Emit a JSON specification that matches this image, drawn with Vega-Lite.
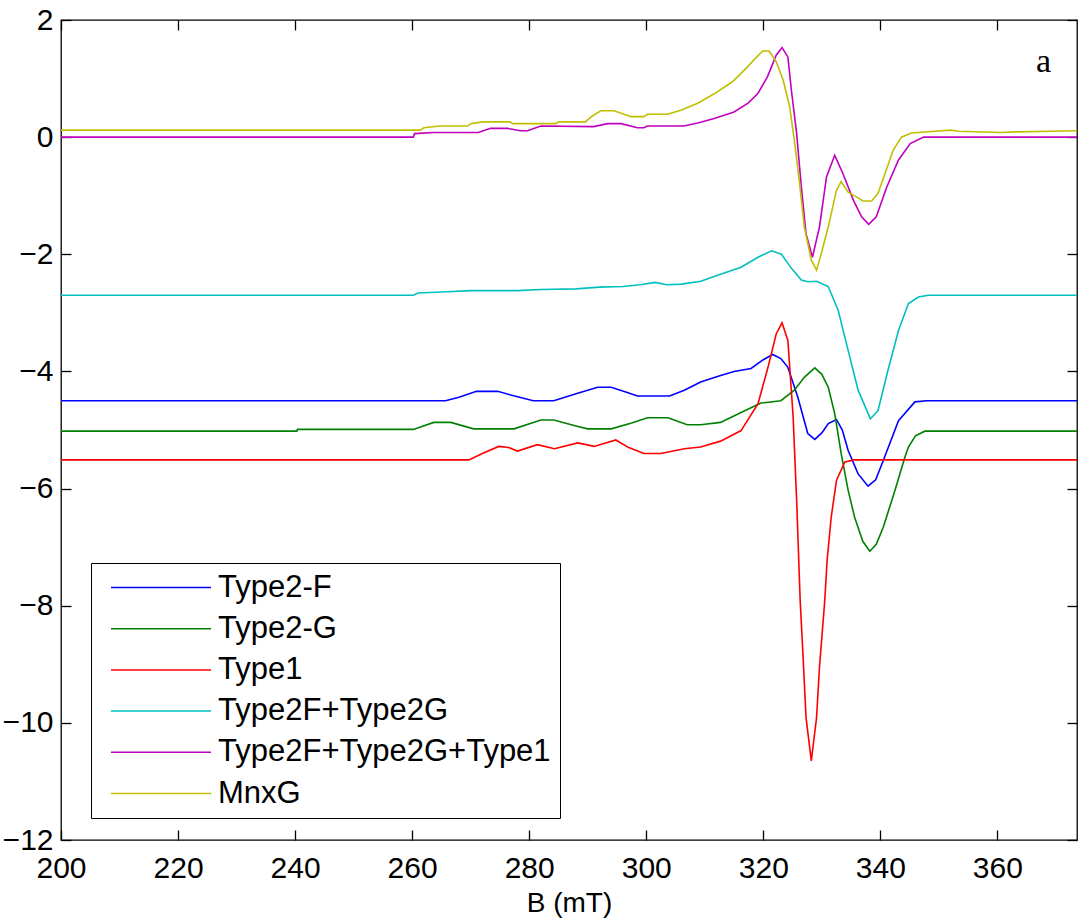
{
"$schema": "https://vega.github.io/schema/vega-lite/v6.json",
"width": 1016, "height": 820,
"autosize": {"type": "none"},
"padding": {"left": 61, "top": 20, "right": 2, "bottom": 80},
"background": "white",
"config": {"view": {"stroke": "black", "strokeWidth": 1.3}, "font": "Liberation Sans"},
"datasets": {
"curves": [
{"s":"Type2-F","B":200,"v":-4.5},{"s":"Type2-F","B":265.7,"v":-4.5},{"s":"Type2-F","B":268,"v":-4.44},{"s":"Type2-F","B":271,"v":-4.34},{"s":"Type2-F","B":274.6,"v":-4.34},{"s":"Type2-F","B":277.5,"v":-4.42},{"s":"Type2-F","B":280.7,"v":-4.5},{"s":"Type2-F","B":284.2,"v":-4.5},{"s":"Type2-F","B":288,"v":-4.38},{"s":"Type2-F","B":291.7,"v":-4.27},{"s":"Type2-F","B":294,"v":-4.27},{"s":"Type2-F","B":296.5,"v":-4.35},{"s":"Type2-F","B":298.5,"v":-4.42},{"s":"Type2-F","B":304,"v":-4.42},{"s":"Type2-F","B":306.5,"v":-4.32},{"s":"Type2-F","B":309.3,"v":-4.18},{"s":"Type2-F","B":312.7,"v":-4.07},{"s":"Type2-F","B":315,"v":-4.0},{"s":"Type2-F","B":317.9,"v":-3.95},{"s":"Type2-F","B":320,"v":-3.8},{"s":"Type2-F","B":321.6,"v":-3.71},{"s":"Type2-F","B":323,"v":-3.78},{"s":"Type2-F","B":324.2,"v":-3.93},{"s":"Type2-F","B":325.9,"v":-4.44},{"s":"Type2-F","B":327.6,"v":-5.06},{"s":"Type2-F","B":328.8,"v":-5.16},{"s":"Type2-F","B":330,"v":-5.05},{"s":"Type2-F","B":331.1,"v":-4.89},{"s":"Type2-F","B":332.5,"v":-4.82},{"s":"Type2-F","B":333.5,"v":-5.0},{"s":"Type2-F","B":334.5,"v":-5.35},{"s":"Type2-F","B":336.2,"v":-5.75},{"s":"Type2-F","B":337.9,"v":-5.96},{"s":"Type2-F","B":339.2,"v":-5.85},{"s":"Type2-F","B":340.5,"v":-5.52},{"s":"Type2-F","B":343.1,"v":-4.84},{"s":"Type2-F","B":345.9,"v":-4.52},{"s":"Type2-F","B":347.9,"v":-4.5},{"s":"Type2-F","B":373.6,"v":-4.5},
{"s":"Type2-G","B":200,"v":-5.02},{"s":"Type2-G","B":240.3,"v":-5.02},{"s":"Type2-G","B":240.4,"v":-4.99},{"s":"Type2-G","B":260.2,"v":-4.99},{"s":"Type2-G","B":263.7,"v":-4.87},{"s":"Type2-G","B":266.6,"v":-4.87},{"s":"Type2-G","B":270.5,"v":-4.98},{"s":"Type2-G","B":277.4,"v":-4.98},{"s":"Type2-G","B":282,"v":-4.83},{"s":"Type2-G","B":284.2,"v":-4.83},{"s":"Type2-G","B":288,"v":-4.93},{"s":"Type2-G","B":290,"v":-4.98},{"s":"Type2-G","B":294,"v":-4.98},{"s":"Type2-G","B":297.5,"v":-4.88},{"s":"Type2-G","B":300.2,"v":-4.79},{"s":"Type2-G","B":303.7,"v":-4.79},{"s":"Type2-G","B":307,"v":-4.91},{"s":"Type2-G","B":309.3,"v":-4.91},{"s":"Type2-G","B":312.7,"v":-4.87},{"s":"Type2-G","B":316.2,"v":-4.7},{"s":"Type2-G","B":319.6,"v":-4.54},{"s":"Type2-G","B":323,"v":-4.5},{"s":"Type2-G","B":325.3,"v":-4.32},{"s":"Type2-G","B":327,"v":-4.1},{"s":"Type2-G","B":328.8,"v":-3.94},{"s":"Type2-G","B":330,"v":-4.05},{"s":"Type2-G","B":331.1,"v":-4.27},{"s":"Type2-G","B":332.2,"v":-4.72},{"s":"Type2-G","B":333.3,"v":-5.4},{"s":"Type2-G","B":334.5,"v":-6.03},{"s":"Type2-G","B":335.6,"v":-6.49},{"s":"Type2-G","B":337,"v":-6.9},{"s":"Type2-G","B":338.2,"v":-7.07},{"s":"Type2-G","B":339.3,"v":-6.95},{"s":"Type2-G","B":340.5,"v":-6.66},{"s":"Type2-G","B":342.5,"v":-6.03},{"s":"Type2-G","B":344.2,"v":-5.46},{"s":"Type2-G","B":344.8,"v":-5.29},{"s":"Type2-G","B":346,"v":-5.1},{"s":"Type2-G","B":347.6,"v":-5.02},{"s":"Type2-G","B":373.6,"v":-5.02},
{"s":"Type1","B":200,"v":-5.51},{"s":"Type1","B":269.7,"v":-5.51},{"s":"Type1","B":272,"v":-5.4},{"s":"Type1","B":274.8,"v":-5.28},{"s":"Type1","B":276.5,"v":-5.3},{"s":"Type1","B":278,"v":-5.36},{"s":"Type1","B":281.4,"v":-5.25},{"s":"Type1","B":284.3,"v":-5.32},{"s":"Type1","B":288.3,"v":-5.22},{"s":"Type1","B":291.1,"v":-5.28},{"s":"Type1","B":294.8,"v":-5.17},{"s":"Type1","B":297,"v":-5.3},{"s":"Type1","B":299.6,"v":-5.4},{"s":"Type1","B":302.5,"v":-5.4},{"s":"Type1","B":306.5,"v":-5.32},{"s":"Type1","B":309.3,"v":-5.29},{"s":"Type1","B":312.7,"v":-5.19},{"s":"Type1","B":316.2,"v":-5.01},{"s":"Type1","B":319.1,"v":-4.55},{"s":"Type1","B":320.8,"v":-3.93},{"s":"Type1","B":322.2,"v":-3.36},{"s":"Type1","B":323.2,"v":-3.17},{"s":"Type1","B":324.2,"v":-3.47},{"s":"Type1","B":325.1,"v":-4.78},{"s":"Type1","B":325.7,"v":-6.21},{"s":"Type1","B":326.3,"v":-7.91},{"s":"Type1","B":326.8,"v":-8.88},{"s":"Type1","B":327.3,"v":-9.91},{"s":"Type1","B":328.2,"v":-10.65},{"s":"Type1","B":329.1,"v":-9.91},{"s":"Type1","B":329.6,"v":-9.05},{"s":"Type1","B":330.5,"v":-7.91},{"s":"Type1","B":330.9,"v":-7.23},{"s":"Type1","B":331.6,"v":-6.49},{"s":"Type1","B":332.5,"v":-5.86},{"s":"Type1","B":333.9,"v":-5.55},{"s":"Type1","B":335.4,"v":-5.51},{"s":"Type1","B":373.6,"v":-5.51},
{"s":"Type2F+Type2G","B":200,"v":-2.7},{"s":"Type2F+Type2G","B":260.2,"v":-2.7},{"s":"Type2F+Type2G","B":261,"v":-2.66},{"s":"Type2F+Type2G","B":266,"v":-2.64},{"s":"Type2F+Type2G","B":270,"v":-2.62},{"s":"Type2F+Type2G","B":278,"v":-2.62},{"s":"Type2F+Type2G","B":282,"v":-2.6},{"s":"Type2F+Type2G","B":288,"v":-2.59},{"s":"Type2F+Type2G","B":292,"v":-2.56},{"s":"Type2F+Type2G","B":296,"v":-2.55},{"s":"Type2F+Type2G","B":299,"v":-2.52},{"s":"Type2F+Type2G","B":301.5,"v":-2.48},{"s":"Type2F+Type2G","B":303.5,"v":-2.52},{"s":"Type2F+Type2G","B":306,"v":-2.51},{"s":"Type2F+Type2G","B":309.3,"v":-2.46},{"s":"Type2F+Type2G","B":312.7,"v":-2.34},{"s":"Type2F+Type2G","B":316.2,"v":-2.22},{"s":"Type2F+Type2G","B":319.1,"v":-2.05},{"s":"Type2F+Type2G","B":321.4,"v":-1.94},{"s":"Type2F+Type2G","B":323.1,"v":-2.0},{"s":"Type2F+Type2G","B":324.8,"v":-2.24},{"s":"Type2F+Type2G","B":326.5,"v":-2.44},{"s":"Type2F+Type2G","B":327.6,"v":-2.47},{"s":"Type2F+Type2G","B":329.1,"v":-2.46},{"s":"Type2F+Type2G","B":331.1,"v":-2.55},{"s":"Type2F+Type2G","B":332.8,"v":-2.96},{"s":"Type2F+Type2G","B":334.5,"v":-3.64},{"s":"Type2F+Type2G","B":336.2,"v":-4.32},{"s":"Type2F+Type2G","B":338.3,"v":-4.81},{"s":"Type2F+Type2G","B":339.6,"v":-4.67},{"s":"Type2F+Type2G","B":341.3,"v":-3.98},{"s":"Type2F+Type2G","B":343.1,"v":-3.3},{"s":"Type2F+Type2G","B":344.8,"v":-2.84},{"s":"Type2F+Type2G","B":346.5,"v":-2.73},{"s":"Type2F+Type2G","B":348.2,"v":-2.7},{"s":"Type2F+Type2G","B":373.6,"v":-2.7},
{"s":"Type2F+Type2G+Type1","B":200,"v":0},{"s":"Type2F+Type2G+Type1","B":260.2,"v":0},{"s":"Type2F+Type2G+Type1","B":260.4,"v":0.06},{"s":"Type2F+Type2G+Type1","B":263.7,"v":0.08},{"s":"Type2F+Type2G+Type1","B":271.3,"v":0.08},{"s":"Type2F+Type2G+Type1","B":273.4,"v":0.15},{"s":"Type2F+Type2G+Type1","B":276.3,"v":0.15},{"s":"Type2F+Type2G+Type1","B":278.5,"v":0.11},{"s":"Type2F+Type2G+Type1","B":279.7,"v":0.11},{"s":"Type2F+Type2G+Type1","B":282,"v":0.19},{"s":"Type2F+Type2G+Type1","B":291,"v":0.18},{"s":"Type2F+Type2G+Type1","B":293.4,"v":0.23},{"s":"Type2F+Type2G+Type1","B":295.7,"v":0.23},{"s":"Type2F+Type2G+Type1","B":298.5,"v":0.16},{"s":"Type2F+Type2G+Type1","B":299.6,"v":0.16},{"s":"Type2F+Type2G+Type1","B":300.2,"v":0.19},{"s":"Type2F+Type2G+Type1","B":306.4,"v":0.19},{"s":"Type2F+Type2G+Type1","B":308.8,"v":0.24},{"s":"Type2F+Type2G+Type1","B":311.6,"v":0.32},{"s":"Type2F+Type2G+Type1","B":315,"v":0.43},{"s":"Type2F+Type2G+Type1","B":317.4,"v":0.58},{"s":"Type2F+Type2G+Type1","B":319.1,"v":0.75},{"s":"Type2F+Type2G+Type1","B":320.7,"v":1.03},{"s":"Type2F+Type2G+Type1","B":322.2,"v":1.4},{"s":"Type2F+Type2G+Type1","B":323.2,"v":1.53},{"s":"Type2F+Type2G+Type1","B":324.2,"v":1.37},{"s":"Type2F+Type2G+Type1","B":324.8,"v":0.8},{"s":"Type2F+Type2G+Type1","B":325.7,"v":0.06},{"s":"Type2F+Type2G+Type1","B":326.5,"v":-0.85},{"s":"Type2F+Type2G+Type1","B":327.3,"v":-1.65},{"s":"Type2F+Type2G+Type1","B":328.4,"v":-2.05},{"s":"Type2F+Type2G+Type1","B":329.6,"v":-1.53},{"s":"Type2F+Type2G+Type1","B":330.8,"v":-0.68},{"s":"Type2F+Type2G+Type1","B":332.2,"v":-0.31},{"s":"Type2F+Type2G+Type1","B":333.6,"v":-0.62},{"s":"Type2F+Type2G+Type1","B":335.4,"v":-1.08},{"s":"Type2F+Type2G+Type1","B":336.8,"v":-1.36},{"s":"Type2F+Type2G+Type1","B":338,"v":-1.49},{"s":"Type2F+Type2G+Type1","B":339.3,"v":-1.36},{"s":"Type2F+Type2G+Type1","B":341.1,"v":-0.85},{"s":"Type2F+Type2G+Type1","B":343.1,"v":-0.39},{"s":"Type2F+Type2G+Type1","B":345.1,"v":-0.11},{"s":"Type2F+Type2G+Type1","B":347.4,"v":0},{"s":"Type2F+Type2G+Type1","B":373.6,"v":0},
{"s":"MnxG","B":200,"v":0.12},{"s":"MnxG","B":261.4,"v":0.12},{"s":"MnxG","B":262,"v":0.16},{"s":"MnxG","B":264.7,"v":0.19},{"s":"MnxG","B":269.5,"v":0.19},{"s":"MnxG","B":270,"v":0.23},{"s":"MnxG","B":272,"v":0.26},{"s":"MnxG","B":276.7,"v":0.26},{"s":"MnxG","B":277.2,"v":0.23},{"s":"MnxG","B":284.6,"v":0.23},{"s":"MnxG","B":285,"v":0.26},{"s":"MnxG","B":289.6,"v":0.26},{"s":"MnxG","B":290.5,"v":0.34},{"s":"MnxG","B":292.2,"v":0.45},{"s":"MnxG","B":294.5,"v":0.45},{"s":"MnxG","B":297.4,"v":0.35},{"s":"MnxG","B":299.6,"v":0.35},{"s":"MnxG","B":300.2,"v":0.39},{"s":"MnxG","B":303.6,"v":0.39},{"s":"MnxG","B":305.9,"v":0.46},{"s":"MnxG","B":308.8,"v":0.58},{"s":"MnxG","B":311.6,"v":0.74},{"s":"MnxG","B":313.9,"v":0.89},{"s":"MnxG","B":315,"v":0.97},{"s":"MnxG","B":317.3,"v":1.2},{"s":"MnxG","B":318.7,"v":1.35},{"s":"MnxG","B":319.9,"v":1.47},{"s":"MnxG","B":321,"v":1.47},{"s":"MnxG","B":322.2,"v":1.29},{"s":"MnxG","B":323.4,"v":0.97},{"s":"MnxG","B":324.5,"v":0.52},{"s":"MnxG","B":325.3,"v":-0.05},{"s":"MnxG","B":326.2,"v":-0.79},{"s":"MnxG","B":327,"v":-1.53},{"s":"MnxG","B":328.2,"v":-2.1},{"s":"MnxG","B":329.1,"v":-2.27},{"s":"MnxG","B":329.9,"v":-1.99},{"s":"MnxG","B":331.1,"v":-1.53},{"s":"MnxG","B":332.5,"v":-0.91},{"s":"MnxG","B":333.3,"v":-0.76},{"s":"MnxG","B":334.5,"v":-0.94},{"s":"MnxG","B":335.9,"v":-1.02},{"s":"MnxG","B":337,"v":-1.09},{"s":"MnxG","B":338.5,"v":-1.09},{"s":"MnxG","B":339.6,"v":-0.96},{"s":"MnxG","B":340.8,"v":-0.62},{"s":"MnxG","B":342.2,"v":-0.22},{"s":"MnxG","B":343.6,"v":0.0},{"s":"MnxG","B":345.3,"v":0.07},{"s":"MnxG","B":349.3,"v":0.1},{"s":"MnxG","B":352,"v":0.12},{"s":"MnxG","B":353.3,"v":0.1},{"s":"MnxG","B":360.7,"v":0.08},{"s":"MnxG","B":363,"v":0.09},{"s":"MnxG","B":373.6,"v":0.11}
],
"frame": [{"B":200,"v":-12},{"B":373.6,"v":2}],
"note": [{"t":"a","B":367.9,"v":1.28}]
},
"layer": [
{
"data": {"name": "curves"},
"mark": {"type": "line", "strokeWidth": 1.6},
"encoding": {
"x": {"field": "B", "type": "quantitative", "scale": {"domain": [200, 373.6], "nice": false, "zero": false},
"axis": {"orient": "bottom", "values": [200,220,240,260,280,300,320,340,360], "ticks": false, "domain": false, "grid": false, "labelFlush": false, "labelFontSize": 30, "labelPadding": 13, "labelColor": "black", "labelFont": "Liberation Sans", "title": "B (mT)", "titleFontSize": 28, "titleFontWeight": "normal", "titleFont": "Liberation Sans", "titleColor": "black", "titlePadding": 6}},
"y": {"field": "v", "type": "quantitative", "scale": {"domain": [-12, 2], "nice": false, "zero": false},
"axis": {"orient": "left", "values": [-12,-10,-8,-6,-4,-2,0,2], "ticks": false, "domain": false, "grid": false, "labelFlush": false, "labelFontSize": 30, "labelPadding": 8, "labelColor": "black", "labelFont": "Liberation Sans", "title": null}},
"color": {"field": "s", "type": "nominal",
"scale": {"domain": ["Type2-F","Type2-G","Type1","Type2F+Type2G","Type2F+Type2G+Type1","MnxG"], "range": ["#0000ff","#008000","#ff0000","#00bfbf","#bf00bf","#bfbf00"]},
"legend": {"orient": "none", "legendX": 30, "legendY": 543, "title": null, "symbolType": "stroke", "symbolSize": 10000, "symbolStrokeWidth": 1.5, "clipHeight": 31, "labelFontSize": 31, "labelFont": "Liberation Sans", "labelColor": "black", "labelOffset": 6, "labelLimit": 500, "rowPadding": 9.2, "padding": 9, "symbolOffset": 10, "strokeColor": "black", "fillColor": "white"}}
}
},
{
"data": {"name": "frame"},
"mark": {"type": "line", "opacity": 0},
"encoding": {
"x": {"field": "B", "type": "quantitative", "scale": {"domain": [200, 373.6], "nice": false, "zero": false},
"axis": {"orient": "bottom", "values": [200,220,240,260,280,300,320,340,360], "labels": false, "domain": false, "grid": false, "offset": -10, "tickSize": 10, "tickColor": "black", "tickWidth": 1.3, "title": null}},
"y": {"field": "v", "type": "quantitative", "scale": {"domain": [-12, 2], "nice": false, "zero": false},
"axis": {"orient": "left", "values": [-12,-10,-8,-6,-4,-2,0,2], "labels": false, "domain": false, "grid": false, "offset": -10, "tickSize": 10, "tickColor": "black", "tickWidth": 1.3, "title": null}}
}
},
{
"data": {"name": "frame"},
"mark": {"type": "line", "opacity": 0},
"encoding": {
"x": {"field": "B", "type": "quantitative", "scale": {"domain": [200, 373.6], "nice": false, "zero": false},
"axis": {"orient": "top", "values": [200,220,240,260,280,300,320,340,360], "labels": false, "domain": false, "grid": false, "offset": -10, "tickSize": 10, "tickColor": "black", "tickWidth": 1.3, "title": null}},
"y": {"field": "v", "type": "quantitative", "scale": {"domain": [-12, 2], "nice": false, "zero": false},
"axis": {"orient": "right", "values": [-12,-10,-8,-6,-4,-2,0,2], "labels": false, "domain": false, "grid": false, "offset": -10, "tickSize": 10, "tickColor": "black", "tickWidth": 1.3, "title": null}}
}
},
{
"data": {"name": "note"},
"mark": {"type": "text", "font": "Liberation Serif", "fontSize": 34, "color": "black", "align": "center", "baseline": "middle"},
"encoding": {
"x": {"field": "B", "type": "quantitative", "scale": {"domain": [200, 373.6], "nice": false, "zero": false}, "axis": null},
"y": {"field": "v", "type": "quantitative", "scale": {"domain": [-12, 2], "nice": false, "zero": false}, "axis": null},
"text": {"field": "t"}
}
}
],
"resolve": {"axis": {"x": "independent", "y": "independent"}}
}
